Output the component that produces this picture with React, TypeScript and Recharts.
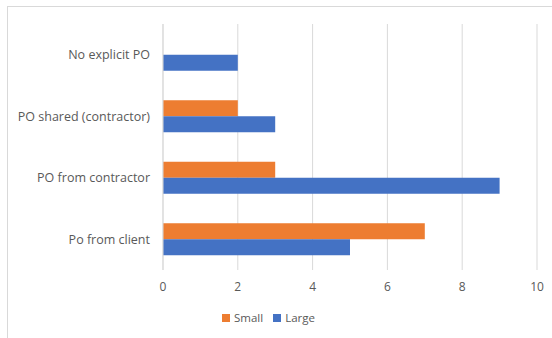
import { BarChart, Bar, XAxis, YAxis, CartesianGrid } from "recharts";

const categories = ["No explicit PO", "PO shared (contractor)", "PO from contractor", "Po from client"];
const small = [0, 2, 3, 7];
const large = [2, 3, 9, 5];
const xTicks = [0, 2, 4, 6, 8, 10];

const data = categories.map((c, i) => ({ name: c, Small: small[i], Large: large[i] }));

const FONT = "'Open Sans', sans-serif";
const GREY = "#595959";

export default function App() {
  return (
    <div style={{ position: "absolute", left: 0, top: 0, width: 552, height: 338, background: "#fff", fontFamily: FONT }}>
      <div style={{ position: "absolute", left: 7, top: 6, width: 545, height: 332, borderLeft: "1px solid #d9d9d9", borderTop: "1px solid #d9d9d9" }} />
      <BarChart
        width={552}
        height={338}
        data={data}
        layout="vertical"
        margin={{ top: 24, right: 15, left: 0, bottom: 38 }}
        barGap={0}
        barCategoryGap="24%"
      >
        <CartesianGrid horizontal={false} stroke="#d9d9d9" />
        <XAxis
          type="number"
          domain={[0, 10]}
          ticks={xTicks}
          axisLine={false}
          tickLine={false}
          height={30}
          tick={{ fill: GREY, fontSize: 12, fontFamily: FONT }}
          tickMargin={6}
        />
        <YAxis
          type="category"
          dataKey="name"
          width={163}
          axisLine={{ stroke: "#d9d9d9" }}
          tickLine={false}
          tickSize={0}
          tickMargin={13}
          tick={{ fill: GREY, fontSize: 12.5, fontFamily: FONT }}
        />
        <Bar dataKey="Small" fill="#ED7D31" isAnimationActive={false} />
        <Bar dataKey="Large" fill="#4472C4" isAnimationActive={false} />
      </BarChart>
      <div style={{ position: "absolute", top: 310, left: 0, width: 537, display: "flex", justifyContent: "center", gap: 10, fontSize: 11.5, color: GREY }}>
        <span style={{ display: "flex", alignItems: "center", gap: 4 }}>
          <span style={{ width: 8, height: 8, background: "#ED7D31", display: "inline-block" }} />Small
        </span>
        <span style={{ display: "flex", alignItems: "center", gap: 4 }}>
          <span style={{ width: 8, height: 8, background: "#4472C4", display: "inline-block" }} />Large
        </span>
      </div>
    </div>
  );
}
